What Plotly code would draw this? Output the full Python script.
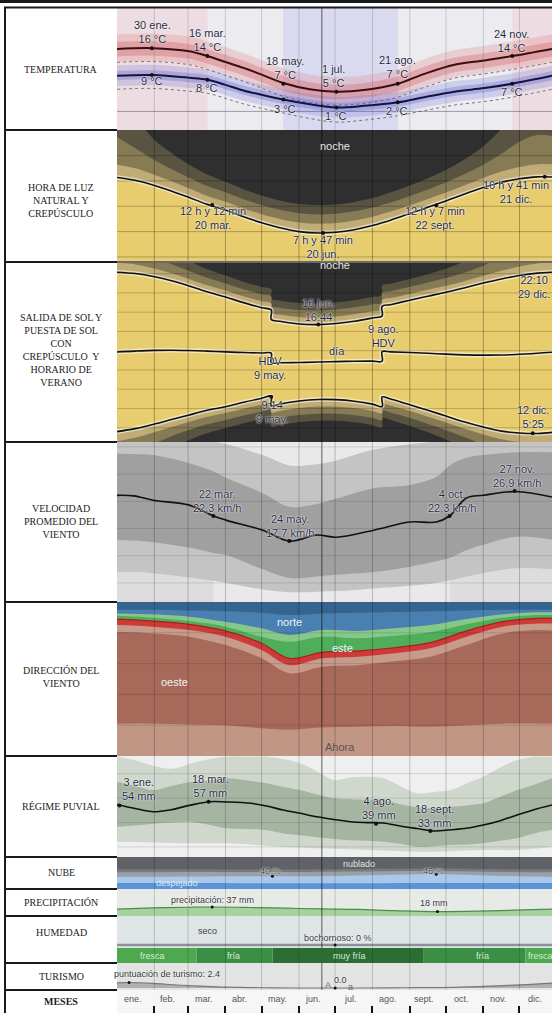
import plotly.graph_objects as go

W, H = 552, 1013
CX0 = 117
XMAX = 361
SANS = "Liberation Sans, Arial, sans-serif"
SERIF = "Liberation Serif, Times New Roman, serif"
INK = "#1f2740"
HALO = "0px 0px 2px #ffffff, 0px 0px 1px #ffffff"

# ---------------- data ----------------
month_starts = [0, 31, 59, 90, 120, 151, 181, 212, 243, 273, 304, 334]
month_names = ["ene.", "feb.", "mar.", "abr.", "may.", "jun.", "jul.", "ago.", "sept.", "oct.", "nov.", "dic."]
month_label_days = [13, 42, 72, 102, 133, 163, 194, 225, 255, 286, 316, 347]
today_day = 170

# temperature (°C)
temp_days = [0, 30, 60, 75, 90, 105, 120, 138, 160, 182, 205, 233, 255, 280, 305, 328, 361]
temp_high = [15.8, 16.0, 15.2, 14.0, 12.5, 11.0, 9.3, 7.2, 5.6, 5.0, 5.4, 7.0, 9.5, 11.8, 12.9, 14.0, 15.8]
temp_low = [9.0, 9.2, 8.5, 8.0, 6.7, 5.3, 4.2, 3.0, 1.8, 1.0, 1.4, 2.3, 3.6, 5.0, 5.9, 7.0, 9.0]
temp_high_p90 = [19.5, 19.7, 18.9, 17.7, 16.2, 14.7, 13.0, 10.9, 9.3, 8.7, 9.1, 10.7, 13.2, 15.5, 16.6, 17.7, 19.5]
temp_high_p75 = [17.6, 17.8, 17.0, 15.8, 14.3, 12.8, 11.1, 9.0, 7.4, 6.8, 7.2, 8.8, 11.3, 13.6, 14.7, 15.8, 17.6]
temp_high_p25 = [13.9, 14.1, 13.3, 12.1, 10.6, 9.1, 7.4, 5.3, 3.7, 3.1, 3.5, 5.1, 7.6, 9.9, 11.0, 12.1, 13.9]
temp_high_p10 = [12.6, 12.8, 12.0, 10.8, 9.3, 7.8, 6.1, 4.0, 2.4, 1.8, 2.2, 3.8, 6.3, 8.6, 9.7, 10.8, 12.6]
temp_low_p90 = [11.6, 11.8, 11.1, 10.6, 9.3, 7.9, 6.8, 5.6, 4.4, 3.6, 4.0, 4.9, 6.2, 7.6, 8.5, 9.6, 11.6]
temp_low_p75 = [10.2, 10.4, 9.7, 9.2, 7.9, 6.5, 5.4, 4.2, 3.0, 2.2, 2.6, 3.5, 4.8, 6.2, 7.1, 8.2, 10.2]
temp_low_p25 = [7.9, 8.1, 7.4, 6.9, 5.6, 4.2, 3.1, 1.9, 0.7, -0.1, 0.3, 1.2, 2.5, 3.9, 4.8, 5.9, 7.9]
temp_low_p10 = [6.4, 6.6, 5.9, 5.4, 4.1, 2.7, 1.6, 0.4, -0.8, -1.6, -1.2, -0.3, 1.0, 2.4, 3.3, 4.4, 6.4]
temp_feel_high = [12.4, 12.6, 11.8, 10.6, 9.1, 7.6, 5.9, 3.8, 2.2, 1.6, 2.0, 3.6, 6.1, 8.4, 9.5, 10.6, 12.4]
temp_feel_low = [5.6, 5.8, 5.1, 4.6, 3.3, 1.9, 0.8, -0.4, -1.8, -2.7, -2.2, -1.1, 0.2, 1.6, 2.5, 3.6, 5.6]
warm_season = [(0, 75), (328, 361)]
cold_season = [(138, 233)]
temp_mark_days = [29, 75, 138, 182, 233, 328]
temp_mark_high = [16, 14, 7, 5, 7, 14]
temp_mark_low = [9.2, 8, 3, 1, 2.3, 7]

# daylight / sun (hours, local clock)
sun_days = [0, 15, 31, 46, 59, 74, 90, 105, 120, 128, 128, 135, 151, 167, 182, 197, 212, 220, 220,
            227, 243, 258, 273, 288, 304, 319, 334, 349, 364]
day_len = [16.55, 16.1, 15.3, 14.35, 13.45, 12.35, 11.4, 10.35, 9.4, 8.95, 8.95, 8.6, 8.0, 7.78, 7.9, 8.3,
           8.95, 9.4, 9.4, 9.8, 10.85, 11.85, 12.85, 13.9, 14.95, 15.8, 16.35, 16.65, 16.6]
sunrise = [5.60, 5.91, 6.38, 6.88, 7.30, 7.79, 8.18, 8.64, 9.06, 9.28, 8.28, 8.45, 8.77, 8.93, 8.92, 8.76,
           8.45, 8.20, 9.20, 8.98, 8.39, 7.81, 7.22, 6.62, 6.07, 5.65, 5.46, 5.41, 5.56]
sunset = [22.15, 22.01, 21.68, 21.23, 20.75, 20.14, 19.58, 18.99, 18.46, 18.23, 17.23, 17.05, 16.77, 16.71,
          16.82, 17.06, 17.40, 17.60, 18.60, 18.78, 19.24, 19.66, 20.07, 20.52, 21.02, 21.45, 21.81, 22.06, 22.16]
solar_noon = [13.87, 13.96, 14.03, 14.05, 14.02, 13.96, 13.88, 13.81, 13.76, 13.75, 12.75, 12.75, 12.77, 12.82,
              12.87, 12.91, 12.92, 12.90, 13.90, 13.88, 13.81, 13.73, 13.64, 13.57, 13.54, 13.55, 13.63, 13.73, 13.86]
civil_tw = [1.0, 0.95, 0.85, 0.78, 0.72, 0.68, 0.66, 0.66, 0.68, 0.69, 0.69, 0.70, 0.72, 0.73, 0.73, 0.72,
            0.70, 0.69, 0.69, 0.68, 0.66, 0.66, 0.67, 0.70, 0.76, 0.84, 0.93, 1.0, 1.0]
nautical_tw = [2.2, 1.6, 1.15, 0.95, 0.85, 0.78, 0.74, 0.72, 0.72, 0.72, 0.72, 0.72, 0.73, 0.74, 0.74, 0.73,
               0.72, 0.72, 0.72, 0.72, 0.73, 0.75, 0.80, 0.88, 1.05, 1.4, 2.0, 2.3, 2.2]
astro_tw = [3.0, 2.5, 1.6, 1.25, 1.05, 0.92, 0.84, 0.79, 0.76, 0.75, 0.75, 0.74, 0.73, 0.73, 0.73, 0.74,
            0.76, 0.77, 0.77, 0.78, 0.82, 0.88, 0.98, 1.15, 1.45, 2.0, 3.0, 3.0, 3.0]
daylen_mark_days = [79, 171, 265, 355]
daylen_mark_vals = [12.2, 7.78, 12.12, 16.68]
sun_mark_days = [167, 128, 345]
sun_mark_vals = [16.73, 9.23, 5.42]

# wind speed (km/h)
wspd_days = [0, 14, 30, 60, 80, 91, 121, 143, 166, 182, 213, 243, 265, 276, 290, 304, 331, 361]
wspd_mean = [26.1, 26.0, 25.2, 24.3, 22.3, 21.5, 19.7, 17.7, 18.8, 18.4, 19.7, 21.2, 21.2, 22.3, 25.6, 26.1, 26.8, 25.8]
wspd_p90 = [37, 37, 37, 36.5, 36, 35.5, 33.5, 31.6, 31.8, 32.5, 34.5, 35.5, 36, 36.5, 37, 37, 37, 37]
wspd_p75 = [33.8, 33.7, 33.5, 32, 30.5, 29.3, 26.5, 24, 24.5, 25.5, 27.4, 28, 29.5, 31.6, 33, 33.5, 34, 34]
wspd_p25 = [17.9, 17.8, 17.5, 16.5, 15.5, 15.1, 12.5, 10.9, 11.2, 11.5, 12, 13, 14, 14.6, 16, 17, 18.5, 18]
wspd_p10 = [12, 12, 11.8, 11, 10.4, 10, 8.8, 8.3, 8.4, 8.5, 9, 9.5, 10, 10.5, 11.2, 11.8, 12.7, 12.5]
windy_season = [(0, 80), (276, 361)]
wspd_mark_days = [80, 143, 276, 330]
wspd_mark_vals = [22.3, 17.7, 22.3, 26.9]

# wind direction (cumulative %, from bottom)
wdir_days = [0, 30, 60, 90, 120, 143, 170, 200, 230, 260, 290, 320, 350, 361]
wdir_nw_low = [21, 21, 20.5, 20, 18, 17, 18.5, 19, 19.5, 19, 20, 21, 21, 21]
wdir_west = [80.7, 79.6, 77.5, 72, 63.4, 53.7, 58, 59, 61.5, 64.5, 72, 79.6, 81.8, 81.5]
wdir_sw = [85, 84, 81.8, 77.5, 68.8, 59, 63.4, 64.5, 66.7, 69.9, 77.5, 84, 86, 86]
wdir_south = [88.9, 87.6, 85.5, 81.2, 73.2, 63.4, 67.3, 68.2, 70.3, 73.6, 81.2, 87.2, 89.4, 89.4]
wdir_east = [91, 89.8, 87.6, 84, 77.5, 74.2, 77.5, 76.4, 78.1, 80.3, 85.5, 89.8, 91.5, 91.5]
wdir_ne = [92.6, 92, 90.5, 87.2, 82.9, 78.6, 81.8, 81.2, 82.9, 85, 88.9, 92, 93.3, 93.3]
wdir_north = [95, 95, 94.5, 94, 93, 91.5, 92.6, 93, 93.5, 94, 94.5, 95, 95, 95]

# rainfall (mm, 31-day sum)
rain_days = [0, 15, 30, 45, 60, 77, 91, 111, 124, 138, 152, 166, 180, 194, 207, 221, 235, 249, 263, 277,
             290, 304, 318, 332, 346, 361]
rain_mean = [54.8, 51.5, 48.8, 50.5, 54, 57, 56.8, 55.7, 53.5, 50.2, 47.5, 44.7, 42.5, 40.6, 39.9, 39.6,
             37.1, 35, 33, 34, 35.2, 37.9, 41.5, 46.1, 50.5, 54.3]
rain_p90 = [93.9, 91, 86.5, 84, 88, 92, 93.9, 93.9, 93.9, 92, 88.5, 82, 74.8, 77, 77.5, 76.2, 70, 63.9,
            65, 66.6, 72, 77.5, 85, 91.2, 93.9, 93.9]
rain_p75 = [73.4, 70, 66.6, 70, 73, 74.5, 76.2, 74, 72.1, 69, 66.6, 63, 59.8, 59, 58.6, 58.4, 55, 52.5,
            51.6, 52.9, 54, 55.7, 61, 66.6, 71, 76.2]
rain_p25 = [36.5, 37.5, 39, 40, 40.6, 38, 35.2, 34.5, 33.8, 31, 29.5, 27.8, 26.5, 25.5, 25, 24.2, 22.5,
            20.1, 20.5, 21.5, 22, 22.9, 25, 27, 31, 33.8]
rain_p10 = [24.2, 24, 23.5, 23.2, 23, 22.9, 22.9, 22, 21, 20, 19.5, 18.8, 18.5, 18, 17.5, 17, 16.5, 16,
            16, 16.5, 17, 17.4, 17.4, 17.4, 18.5, 20.1]
rain_mark_days = [2, 76, 215, 260]
rain_mark_vals = [54, 57, 39, 33]

# cloud cover (cumulative %, from bottom: clear -> overcast)
cloud_days = [0, 60, 129, 180, 265, 320, 361]
cloud_clear = [19, 19, 18, 18, 19, 19, 19]
cloud_mostly_clear = [38, 39, 40, 41, 46, 41, 38]
cloud_partly = [52, 53, 53, 54, 56, 53, 52]
cloud_mostly_cloudy = [62, 62, 61, 62, 64, 62, 62]
cloud_mark_days = [129, 265]
cloud_mark_vals = [40, 46]

# precipitation (mm)
prec_days = [0, 30, 60, 79, 110, 140, 170, 200, 230, 266, 300, 330, 361]
prec_vals = [28, 33, 36, 37, 35, 32, 29, 27, 22, 18, 20, 24, 28]
prec_mark_days = [79, 266]
prec_mark_vals = [37, 18]

# humidity (muggy %)
muggy_days = [0, 90, 181, 270, 361]
muggy_vals = [0, 0, 0, 0, 0]

# perceived temperature categories
comfort_start = [0, 66, 129, 254, 339]
comfort_end = [66, 129, 254, 339, 361]
comfort_names = ["fresca", "fría", "muy fría", "fría", "fresca"]
comfort_colors = {"fresca": "#4ea84f", "fría": "#3b8f45", "muy fría": "#2c6d34"}

# tourism score
tour_days = [0, 10, 30, 50, 70, 90, 120, 150, 170, 200, 240, 280, 310, 340, 361]
tour_vals = [2.2, 2.4, 2.0, 1.3, 0.8, 0.4, 0.1, 0.0, 0.0, 0.0, 0.1, 0.3, 0.8, 1.5, 2.1]
tour_mark_days = [10, 181]
tour_mark_vals = [2.4, 0.0]

row_titles = ["TEMPERATURA", "HORA DE LUZ<br>NATURAL Y<br>CREPÚSCULO",
              "SALIDA DE SOL Y<br>PUESTA DE SOL<br>CON<br>CREPÚSCULO  Y<br>HORARIO DE<br>VERANO",
              "VELOCIDAD<br>PROMEDIO DEL<br>VIENTO", "DIRECCIÓN DEL<br>VIENTO", "RÉGIME PUVIAL",
              "NUBE", "PRECIPITACIÓN", "HUMEDAD", "TURISMO", "<b>MESES</b>"]
row_title_y = [70, 200, 350, 521, 677, 806, 872, 902, 932, 976, 1001]

# ---------------- layout scaffolding ----------------
ROWS = [
    ("temp", 7, 130, [-4.7, 26.4]),
    ("day", 130, 262, [3.2, 24.05]),
    ("sun", 262, 442, [4.52, 23.21]),
    ("wspd", 442, 602, [6.5, 35.9]),
    ("wdir", 602, 756, [0, 100]),
    ("rain", 756, 857, [11.7, 94.5]),
    ("cloud", 857, 889, [0, 100]),
    ("prec", 889, 916, [0, 111]),
    ("hum", 916, 948, [-10.3, 100]),
    ("comf", 948, 963, [-0.5, 0.5]),
    ("tour", 963, 990, [-0.87, 10.9]),
    ("mes", 990, 1013, [0, 1]),
]
IDX = {r[0]: i + 1 for i, r in enumerate(ROWS)}


def xr(n):
    i = IDX[n]
    return "x" if i == 1 else f"x{i}"


def yr(n):
    i = IDX[n]
    return "y" if i == 1 else f"y{i}"


fig = go.Figure()
shapes = []
annos = []

axes = {}
for name, top, bot, rng in ROWS:
    i = IDX[name]
    sfx = "" if i == 1 else str(i)
    axes["xaxis" + sfx] = dict(domain=[CX0 / W, 1], range=[0, XMAX], showgrid=False, zeroline=False,
                               showticklabels=False, showline=False, ticks="", fixedrange=True,
                               anchor=yr(name))
    axes["yaxis" + sfx] = dict(domain=[1 - bot / H, 1 - top / H], range=rng, showgrid=False, zeroline=False,
                               showticklabels=False, showline=False, ticks="", fixedrange=True,
                               anchor=xr(name))
axes["xaxis12"].update(tickmode="array", tickvals=month_starts, ticks="inside", ticklen=7, tickwidth=2,
                       tickcolor="#111")


def bg(name, color):
    shapes.append(dict(type="rect", xref=xr(name) + " domain", yref=yr(name) + " domain", x0=0, x1=1,
                       y0=0, y1=1, fillcolor=color, line=dict(width=0), layer="below"))


def xband(name, d0, d1, color, layer="below"):
    shapes.append(dict(type="rect", xref=xr(name), yref=yr(name) + " domain", x0=d0, x1=d1, y0=0, y1=1,
                       fillcolor=color, line=dict(width=0), layer=layer))


def vline(name, d, color, width=1):
    shapes.append(dict(type="line", xref=xr(name), yref=yr(name) + " domain", x0=d, x1=d, y0=0, y1=1,
                       line=dict(color=color, width=width), layer="above"))


def hline(name, v, color, width=1):
    shapes.append(dict(type="line", xref=xr(name) + " domain", yref=yr(name), x0=0, x1=1, y0=v, y1=v,
                       line=dict(color=color, width=width), layer="above"))


def line(name, xs, ys, color, width=1.5, dash=None, shape="spline"):
    ln = dict(color=color, width=width, shape=shape)
    if dash:
        ln["dash"] = dash
    fig.add_trace(go.Scatter(x=xs, y=ys, mode="lines", line=ln, xaxis=xr(name), yaxis=yr(name),
                             hoverinfo="skip", showlegend=False))


def glow_line(name, xs, ys, color="#111", width=1.6, shape="spline"):
    line(name, xs, ys, "rgba(255,255,255,0.55)", width=width + 3, shape=shape)
    line(name, xs, ys, color, width=width, shape=shape)


def fill_between(name, xs, lo, hi, color, shape="spline"):
    fig.add_trace(go.Scatter(x=xs, y=lo, mode="lines", line=dict(width=0, shape=shape), xaxis=xr(name),
                             yaxis=yr(name), hoverinfo="skip", showlegend=False))
    fig.add_trace(go.Scatter(x=xs, y=hi, mode="lines", line=dict(width=0, shape=shape), fill="tonexty",
                             fillcolor=color, xaxis=xr(name), yaxis=yr(name), hoverinfo="skip",
                             showlegend=False))


def fill_zero(name, xs, ys, color, shape="spline"):
    fig.add_trace(go.Scatter(x=xs, y=ys, mode="lines", line=dict(width=0, shape=shape), fill="tozeroy",
                             fillcolor=color, xaxis=xr(name), yaxis=yr(name), hoverinfo="skip",
                             showlegend=False))


def dots(name, xs, ys, color="#111", size=4):
    fig.add_trace(go.Scatter(x=xs, y=ys, mode="markers", marker=dict(color=color, size=size),
                             xaxis=xr(name), yaxis=yr(name), hoverinfo="skip", showlegend=False))


def label(xp, yp, text, size=11, color=INK, family=SANS, halo=True):
    f = dict(family=family, size=size, color=color)
    if halo:
        f["shadow"] = HALO
    annos.append(dict(x=xp / W, y=1 - yp / H, xref="paper", yref="paper", text=text, showarrow=False,
                      xanchor="center", yanchor="middle", align="center", font=f))


def grid(name, color, hvals=(), hcolor=None, today=True):
    for d in month_starts[1:]:
        vline(name, d, color)
    for v in hvals:
        hline(name, v, hcolor or color)
    if today:
        vline(name, today_day, "rgba(0,0,0,0.6)", 1)


# ---------------- TEMPERATURA ----------------
bg("temp", "#ebebf0")
for a, b in warm_season:
    xband("temp", a, b, "rgba(240,205,210,0.5)")
for a, b in cold_season:
    xband("temp", a, b, "rgba(200,200,238,0.5)")
fill_between("temp", temp_days, temp_high_p10, temp_high_p90, "rgba(226,125,125,0.26)")
fill_between("temp", temp_days, temp_low_p10, temp_low_p90, "rgba(125,125,215,0.26)")
fill_between("temp", temp_days, temp_high_p25, temp_high_p75, "rgba(205,75,75,0.28)")
fill_between("temp", temp_days, temp_low_p25, temp_low_p75, "rgba(85,85,200,0.28)")
line("temp", temp_days, temp_feel_high, "rgba(80,80,80,0.75)", width=1, dash="dot")
line("temp", temp_days, temp_feel_low, "rgba(80,80,80,0.75)", width=1, dash="dot")
line("temp", temp_days, temp_high, "#3a0d12", width=2)
line("temp", temp_days, temp_low, "#12143f", width=2)
dots("temp", temp_mark_days, temp_mark_high, size=4)
dots("temp", temp_mark_days, temp_mark_low, size=4)
grid("temp", "rgba(90,90,110,0.25)", [0], "rgba(60,60,80,0.45)")

# ---------------- HORA DE LUZ ----------------
bg("day", "#2f2f2f")
day_astro = [d + 2 * (c + n + a) for d, c, n, a in zip(day_len, civil_tw, nautical_tw, astro_tw)]
day_naut = [d + 2 * (c + n) for d, c, n in zip(day_len, civil_tw, nautical_tw)]
day_civil = [d + 2 * c for d, c in zip(day_len, civil_tw)]
fill_zero("day", sun_days, day_astro, "#595442")
fill_zero("day", sun_days, day_naut, "#877b56")
fill_zero("day", sun_days, day_civil, "#c0ac74")
fill_zero("day", sun_days, day_len, "#e7cd6e")
glow_line("day", sun_days, day_len)
dots("day", daylen_mark_days, daylen_mark_vals, size=4)
grid("day", "rgba(0,0,0,0.3)", [4, 8, 12, 16, 20], "rgba(0,0,0,0.25)")

# ---------------- SALIDA / PUESTA DE SOL ----------------
bg("sun", "#2f2f2f")
ev3 = [s + c + n + a for s, c, n, a in zip(sunset, civil_tw, nautical_tw, astro_tw)]
mo3 = [r - c - n - a for r, c, n, a in zip(sunrise, civil_tw, nautical_tw, astro_tw)]
ev2 = [s + c + n for s, c, n in zip(sunset, civil_tw, nautical_tw)]
mo2 = [r - c - n for r, c, n in zip(sunrise, civil_tw, nautical_tw)]
ev1 = [s + c for s, c in zip(sunset, civil_tw)]
mo1 = [r - c for r, c in zip(sunrise, civil_tw)]
fill_between("sun", sun_days, mo3, ev3, "#595442")
fill_between("sun", sun_days, mo2, ev2, "#877b56")
fill_between("sun", sun_days, mo1, ev1, "#c0ac74")
fill_between("sun", sun_days, sunrise, sunset, "#e7cd6e")
glow_line("sun", sun_days, sunset)
glow_line("sun", sun_days, sunrise)
glow_line("sun", sun_days, solar_noon)
dots("sun", sun_mark_days, sun_mark_vals, size=4)
grid("sun", "rgba(0,0,0,0.3)", [6, 8, 10, 12, 14, 16, 18, 20, 22], "rgba(0,0,0,0.2)")

# ---------------- VELOCIDAD DEL VIENTO ----------------
bg("wspd", "#e9e9e9")
for a, b in windy_season:
    xband("wspd", a, b, "rgba(0,0,0,0.05)")
fill_between("wspd", wspd_days, wspd_p10, wspd_p90, "#c4c4c4")
fill_between("wspd", wspd_days, wspd_p25, wspd_p75, "#a0a0a0")
line("wspd", wspd_days, wspd_mean, "#111", width=1.6)
dots("wspd", wspd_mark_days, wspd_mark_vals, size=4)
grid("wspd", "rgba(0,0,0,0.22)", [10, 15, 20, 25, 30, 35], "rgba(0,0,0,0.12)")

# ---------------- DIRECCION DEL VIENTO ----------------
bg("wdir", "#35648f")
fill_zero("wdir", wdir_days, wdir_north, "#4a7fb1")
fill_zero("wdir", wdir_days, wdir_ne, "#86c88a")
fill_zero("wdir", wdir_days, wdir_east, "#4fae5a")
fill_zero("wdir", wdir_days, wdir_south, "#cc3a3a")
fill_zero("wdir", wdir_days, wdir_sw, "#c79a8a")
fill_zero("wdir", wdir_days, wdir_west, "#a7695a")
fill_zero("wdir", wdir_days, wdir_nw_low, "#c29684")
line("wdir", wdir_days, wdir_south, "#a81f1f", width=1.2)
grid("wdir", "rgba(0,0,0,0.22)", [20, 40, 60, 80], "rgba(0,0,0,0.12)")

# ---------------- REGIMEN PLUVIAL ----------------
bg("rain", "#efefef")
fill_between("rain", rain_days, rain_p10, rain_p90, "#d0d8cd")
fill_between("rain", rain_days, rain_p25, rain_p75, "#a6b4a2")
line("rain", rain_days, rain_mean, "#111", width=1.6)
dots("rain", rain_mark_days, rain_mark_vals, size=4)
grid("rain", "rgba(0,0,0,0.2)", [20, 40, 60, 80], "rgba(0,0,0,0.12)")

# ---------------- NUBE ----------------
bg("cloud", "#5f6368")
fill_zero("cloud", cloud_days, cloud_mostly_cloudy, "#767b80")
fill_zero("cloud", cloud_days, cloud_partly, "#9aa0a5")
fill_zero("cloud", cloud_days, cloud_mostly_clear, "#a9c8ea")
fill_zero("cloud", cloud_days, cloud_clear, "#5b95d8")
dots("cloud", cloud_mark_days, cloud_mark_vals, size=3)
grid("cloud", "rgba(0,0,0,0.18)")

# ---------------- PRECIPITACION ----------------
bg("prec", "#e7eae7")
fill_zero("prec", prec_days, prec_vals, "#a5d29d")
line("prec", prec_days, prec_vals, "#4c8c4c", width=1.2)
dots("prec", prec_mark_days, prec_mark_vals, size=3)
grid("prec", "rgba(0,0,0,0.18)")

# ---------------- HUMEDAD ----------------
bg("hum", "#dfe4e6")
line("hum", muggy_days, muggy_vals, "#8d9296", width=2.5, shape="linear")
dots("hum", [181], [0], size=3)
grid("hum", "rgba(0,0,0,0.18)")

# ---------------- confort bar ----------------
fig.add_trace(go.Bar(orientation="h", y=[0] * len(comfort_start),
                     x=[e - s for s, e in zip(comfort_start, comfort_end)], base=comfort_start, width=1,
                     marker=dict(color=[comfort_colors[n] for n in comfort_names], line=dict(width=0)),
                     xaxis=xr("comf"), yaxis=yr("comf"), hoverinfo="skip", showlegend=False))
grid("comf", "rgba(0,0,0,0.15)", today=False)

# ---------------- TURISMO ----------------
bg("tour", "#e3e3e3")
fill_zero("tour", tour_days, tour_vals, "#b0b0b0")
line("tour", tour_days, tour_vals, "#777", width=1.2)
dots("tour", tour_mark_days, tour_mark_vals, size=3)
grid("tour", "rgba(0,0,0,0.18)")

# ---------------- MESES ----------------
bg("mes", "#f6f6f6")
for d, m in zip(month_label_days, month_names):
    annos.append(dict(x=d, y=0.62, xref=xr("mes"), yref=yr("mes"), text=m, showarrow=False,
                      font=dict(family=SANS, size=9, color="#555")))

# ---------------- chart labels ----------------
for t, x, y in [("30 ene.<br>16 °C", 152, 32), ("16 mar.<br>14 °C", 207, 40), ("18 may.<br>7 °C", 285, 68),
                ("1 jul.<br>5 °C", 333, 76), ("21 ago.<br>7 °C", 397, 67), ("24 nov.<br>14 °C", 511, 41)]:
    label(x, y, t)
for t, x, y in [("9 °C", 152, 81), ("8 °C", 207, 88), ("3 °C", 285, 109), ("1 °C", 336, 116),
                ("2 °C", 397, 111), ("7 °C", 512, 92)]:
    label(x, y, t)

label(335, 146, "noche", color="#e6e6e6", halo=False)
label(213, 218, "12 h y 12 min<br>20 mar.")
label(323, 247, "7 h y 47 min<br>20 jun.")
label(435, 218, "12 h y 7 min<br>22 sept.")
label(516, 192, "16 h y 41 min<br>21 dic.")

label(335, 265, "noche", color="#e6e6e6", halo=False)
label(318, 310, "16 jun.<br>16:44")
label(383, 336, "9 ago.<br>HDV")
label(337, 351, "día")
label(270, 368, "HDV<br>9 may.")
label(272, 412, "9:14<br>9 may.")
label(534, 287, "22:10<br>29 dic.")
label(533, 417, "12 dic.<br>5:25")

label(217, 501, "22 mar.<br>22,3 km/h")
label(290, 526, "24 may.<br>17,7 km/h")
label(452, 501, "4 oct.<br>22,3 km/h")
label(517, 476, "27 nov.<br>26,9 km/h")

label(289, 622, "norte", color="#f2f2f2", halo=False)
label(342, 648, "este", color="#f2f2f2", halo=False)
label(174, 682, "oeste", color="#f2f2f2", halo=False)
label(340, 747, "Ahora", color="#555", halo=False)

label(139, 789, "3 ene.<br>54 mm")
label(210, 786, "18 mar.<br>57 mm")
label(379, 808, "4 ago.<br>39 mm")
label(434, 816, "18 sept.<br>33 mm")

label(270, 871, "40 %", size=9, color="#333")
label(359, 864, "nublado", size=9, color="#e2e2e2", halo=False)
label(433, 871, "46 %", size=9, color="#333")
label(177, 883, "despejado", size=9, color="#d8e6f5", halo=False)
label(212, 900, "precipitación: 37 mm", size=9, color="#333")
label(434, 903, "18 mm", size=9, color="#333")
label(207, 931, "seco", size=9, color="#444", halo=False)
label(338, 938, "bochornoso: 0 %", size=9, color="#333")
for t, x in [("fresca", 152), ("fría", 233), ("muy fría", 349), ("fría", 482), ("fresca", 540)]:
    label(x, 956, t, size=9, color="#d2ecd2", halo=False)
label(167, 974, "puntuación de turismo: 2.4", size=9, color="#333")
label(328, 985, "A", size=9, color="#666", halo=False)
label(340, 980, "0.0", size=9, color="#333")
label(350, 987, "a", size=9, color="#666", halo=False)

# ---------------- left label column ----------------
for t, y in zip(row_titles, row_title_y):
    annos.append(dict(x=61 / W, y=1 - y / H, xref="paper", yref="paper", text=t, showarrow=False,
                      xanchor="center", yanchor="middle", align="center",
                      font=dict(family=SERIF, size=10, color="#222")))


def pline(x0, y0, x1, y1, color="#1a1a1a", width=2):
    shapes.append(dict(type="line", xref="paper", yref="paper", x0=x0 / W, x1=x1 / W, y0=1 - y0 / H,
                       y1=1 - y1 / H, line=dict(color=color, width=width), layer="above"))


pline(0, 1.5, W, 1.5, width=3)
pline(1, 0, 1, 3, width=2)
pline(4, 7.5, W, 7.5, width=2)
pline(5, 7, 5, H, width=2)
for yb in [130, 262, 442, 602, 756, 857, 889, 916, 963, 990]:
    pline(5, yb, CX0, yb, width=2)
pline(CX0, 262, W, 262, color="#6a6a6a", width=2)

fig.update_layout(width=W, height=H, margin=dict(l=0, r=0, t=0, b=0), paper_bgcolor="white",
                  plot_bgcolor="rgba(0,0,0,0)", showlegend=False, shapes=shapes, annotations=annos,
                  **axes)
fig.write_html("out.html", config={"displayModeBar": False, "staticPlot": True},
               post_script="document.body.style.margin='0';document.body.style.overflow='hidden';")
